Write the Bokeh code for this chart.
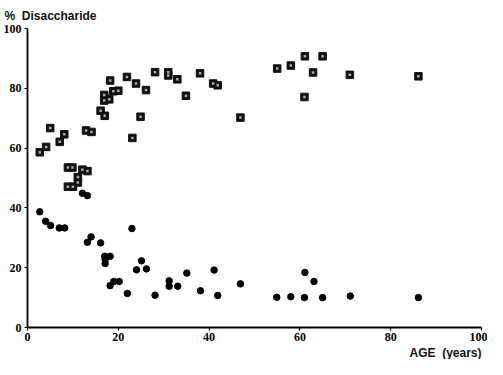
from bokeh.plotting import figure
from bokeh.models import Range1d, FixedTicker, Title
from bokeh.embed import file_html
from bokeh.resources import INLINE

# Disaccharide (%) vs age: squares = one series, filled circles = the other
sq_age = [2.7, 4.1, 5.0, 7.1, 8.1, 8.9, 9.9, 12.1, 13.2, 12.9, 14.1, 16.1, 17.0,
          16.9, 16.9, 18.0, 18.2, 18.9, 20.0, 21.9, 23.1, 23.9, 24.9, 26.1, 28.1,
          31.0, 31.0, 33.0, 34.9, 38.0, 40.9, 41.9, 46.9, 55.0, 58.0, 61.1, 65.0,
          62.9, 61.0, 71.0, 86.1, 8.9, 10.0, 11.1, 11.1]
sq_pct = [58.6, 60.4, 66.7, 62.1, 64.6, 53.5, 53.5, 52.8, 52.3, 65.9, 65.4, 72.5, 70.8,
          77.8, 75.9, 76.3, 82.6, 79.0, 79.2, 83.8, 63.4, 81.6, 70.5, 79.4, 85.4,
          85.4, 84.3, 83.0, 77.5, 85.0, 81.6, 81.0, 70.2, 86.6, 87.6, 90.7, 90.7,
          85.3, 77.1, 84.5, 84.0, 47.1, 47.1, 50.3, 48.5]

ci_age = [2.7, 4.0, 5.1, 7.0, 8.2, 12.1, 13.2, 13.2, 14.0, 16.1, 17.0, 17.1, 17.1,
          18.2, 18.2, 19.0, 20.2, 22.0, 23.0, 24.0, 25.1, 26.2, 28.1, 31.2, 31.2,
          33.1, 35.1, 38.1, 41.1, 41.9, 46.9, 54.9, 58.0, 61.0, 61.1, 63.1, 65.0,
          71.1, 86.1]
ci_pct = [38.7, 35.5, 34.1, 33.3, 33.3, 44.9, 44.1, 28.5, 30.3, 28.3, 23.8, 22.7, 21.4,
          23.8, 14.0, 15.4, 15.4, 11.4, 33.1, 19.3, 22.3, 19.6, 10.8, 15.6, 13.8,
          13.8, 18.2, 12.3, 19.2, 10.7, 14.6, 10.1, 10.3, 10.0, 18.4, 15.4, 10.0,
          10.5, 10.0]

ticks = [0, 20, 40, 60, 80, 100]
y_title = "%\u00a0\u00a0Disaccharide"
x_title = "AGE\u00a0\u00a0(years)"

p = figure(width=487, height=359, output_backend="svg", toolbar_location=None,
           x_range=Range1d(0, 100), y_range=Range1d(0, 100),
           min_border_left=23, min_border_right=6, min_border_top=24, min_border_bottom=30)
p.outline_line_color = None
p.xgrid.grid_line_color = None
p.ygrid.grid_line_color = None
p.background_fill_color = "white"

for ax in (p.xaxis[0], p.yaxis[0]):
    ax.ticker = FixedTicker(ticks=ticks)
    ax.minor_tick_line_color = None
    ax.axis_line_width = 1.8
    ax.axis_line_color = "black"
    ax.major_tick_line_color = "black"
    ax.major_tick_line_width = 1.2
    ax.major_tick_in = 0
    ax.major_tick_out = 3
    ax.major_label_text_font = "Liberation Serif"
    ax.major_label_text_font_style = "bold"
    ax.major_label_text_font_size = "12px"
    ax.major_label_text_color = "black"
p.yaxis[0].major_label_standoff = 3
p.xaxis[0].major_label_standoff = 2

p.scatter(sq_age, sq_pct, marker="square", size=7.5, fill_color="#111111", line_color="#111111")
p.scatter(sq_age, sq_pct, marker="square", size=2.5, fill_color="#aaaaaa", line_color=None)
p.scatter(ci_age, ci_pct, marker="circle", size=6.5, fill_color="black", line_color="black")

p.title = Title(text=y_title, align="left", offset=-23, standoff=12,
                text_font="Liberation Sans", text_font_style="bold",
                text_font_size="12px", text_color="#111111")
p.add_layout(Title(text=x_title, align="right", offset=0, standoff=0,
                   text_line_height=0.9,
                   text_font="Liberation Sans", text_font_style="bold",
                   text_font_size="12px", text_color="#111111"), "below")

open("out.html", "w").write(file_html(p, INLINE))
